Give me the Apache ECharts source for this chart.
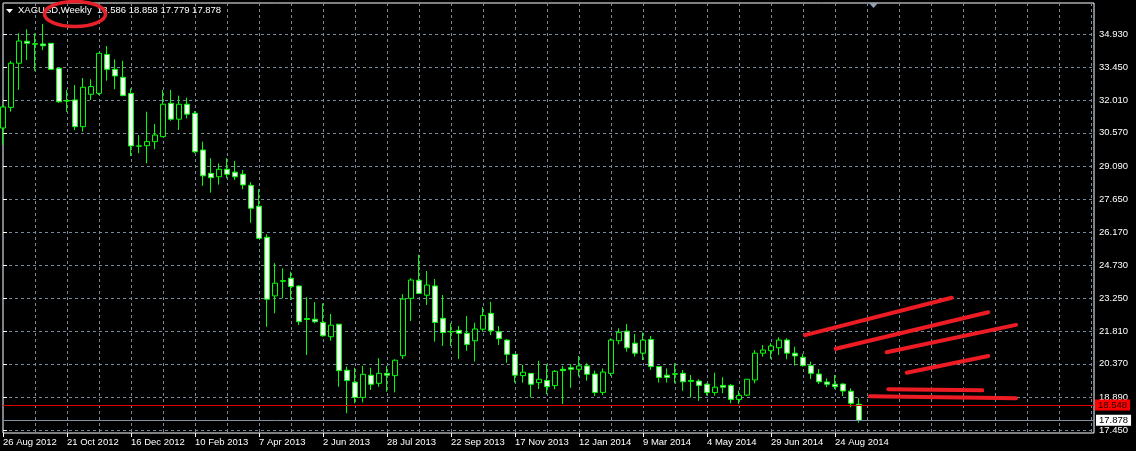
<!DOCTYPE html>
<html>
<head>
<meta charset="utf-8">
<script src="https://cdn.jsdelivr.net/npm/echarts@6/dist/echarts.min.js"></script>
<style>
html,body{margin:0;padding:0;background:#000;}
#c{width:1136px;height:451px;}
</style>
</head>
<body>
<div id="c"></div>
<script>
// Weekly XAGUSD candles, index 0 = week of 26 Aug 2012
const open = [30.78,31.69,33.64,34.61,34.50,34.49,34.52,33.42,31.99,32.02,30.84,32.27,32.31,34.03,33.37,33.02,32.31,29.99,30.00,30.18,30.40,31.87,31.17,31.83,31.43,29.81,28.78,28.63,28.96,28.83,28.74,28.25,27.33,25.96,23.37,24.04,24.15,23.81,22.37,22.34,22.20,21.57,22.12,20.09,19.56,18.89,19.87,19.51,19.95,19.85,20.73,23.26,24.06,23.40,23.81,22.38,21.80,21.85,21.72,21.39,21.90,22.60,21.79,21.42,20.79,19.85,19.95,19.54,19.64,19.41,20.13,20.20,20.13,20.28,19.92,19.11,19.95,21.39,21.81,21.28,20.84,21.45,20.25,19.87,19.93,19.95,19.64,19.61,19.47,19.10,19.42,19.42,18.80,18.99,19.66,20.84,20.95,21.08,21.42,20.84,20.66,20.29,19.92,19.57,19.47,19.48,19.16,18.586];
const close = [31.71,33.64,34.62,34.52,34.48,34.41,33.37,31.94,31.97,30.84,32.58,32.61,34.08,33.37,33.08,32.21,29.99,29.98,30.18,30.47,31.83,31.17,31.83,31.39,29.73,28.67,28.59,28.96,28.74,28.63,28.27,27.24,25.91,23.22,23.93,24.02,23.78,22.23,22.33,22.23,21.61,22.08,20.07,19.63,18.89,19.91,19.47,19.95,19.87,20.53,23.23,24.07,23.48,23.85,22.20,21.75,21.78,21.72,21.23,21.91,22.51,21.83,21.48,20.79,19.87,20.00,19.47,19.69,19.36,20.04,20.07,20.13,20.28,19.91,19.11,20.01,21.42,21.76,21.08,20.84,21.42,20.25,19.77,19.77,19.91,19.58,19.60,19.42,19.11,19.34,19.34,18.80,18.98,19.69,20.84,20.98,21.16,21.42,20.84,20.72,20.29,19.95,19.58,19.47,19.36,19.17,18.63,17.878];
const low = [30.03,31.50,32.46,33.78,33.31,34.22,33.34,31.89,31.50,30.69,30.62,32.02,32.24,32.87,32.49,32.19,29.55,29.67,29.22,29.84,30.38,31.10,30.69,31.21,29.67,28.23,27.93,28.28,28.56,28.49,28.08,26.60,25.90,22.01,22.60,23.26,23.19,22.08,20.76,22.16,21.57,21.39,19.36,18.19,18.63,18.67,19.22,19.36,19.14,19.11,20.59,22.26,23.46,22.97,21.35,21.16,21.16,20.59,20.95,20.47,21.79,21.64,21.20,20.42,19.54,19.54,18.89,19.26,19.03,19.25,18.60,19.32,19.81,19.63,18.95,18.99,19.84,21.23,20.91,20.69,20.54,20.10,19.54,19.54,19.51,19.18,18.88,18.74,18.97,18.97,19.07,18.63,18.60,18.95,19.51,20.69,20.59,20.76,20.57,20.29,20.25,19.70,19.48,19.34,19.25,18.95,18.45,17.779];
const high = [31.80,33.74,34.96,35.14,34.96,35.37,34.53,33.43,32.46,32.68,32.99,32.93,34.10,34.40,33.81,33.75,32.53,30.47,31.50,30.96,32.46,32.46,32.21,32.12,31.53,30.18,29.45,29.22,29.45,29.32,28.93,28.39,28.08,26.09,24.81,24.59,24.44,23.85,23.31,23.09,23.04,22.57,22.12,20.25,20.20,20.28,20.20,20.62,20.28,20.57,23.45,24.15,25.19,24.47,24.12,23.41,22.16,22.04,22.48,22.19,22.87,23.11,22.04,21.46,20.79,20.32,19.95,20.50,20.35,20.10,20.28,20.36,20.72,20.40,20.07,20.17,21.50,21.94,22.13,21.69,21.76,21.60,20.28,20.17,20.40,20.10,19.88,19.69,19.51,19.98,19.78,19.48,19.19,19.69,20.98,21.20,21.28,21.54,21.50,21.13,20.81,20.47,20.14,19.73,19.88,19.51,19.29,18.858];

const dateLabels = ['26 Aug 2012','21 Oct 2012','16 Dec 2012','10 Feb 2013','7 Apr 2013','2 Jun 2013','28 Jul 2013','22 Sep 2013','17 Nov 2013','12 Jan 2014','9 Mar 2014','4 May 2014','29 Jun 2014','24 Aug 2014'];
const dateLabelIdx = [0,8,16,24,32,40,48,56,64,72,80,88,96,104];
const priceTicks = [34.93,33.45,32.01,30.57,29.09,27.65,26.17,24.73,23.25,21.81,20.37,18.89,17.45];
const alertPrice = 18.548;
const bidPrice = 17.878;
const headerText = 'XAGUSD,Weekly  18.586 18.858 17.779 17.878';
// hand-drawn annotation lines: [[weekIdx, price],[weekIdx, price]]
const trendLines = [
  [[100.25,21.64],[118.59,23.29]],
  [[104.09,21.04],[123.16,22.65]],
  [[110.46,20.88],[126.63,22.09]],
  [[112.96,19.98],[123.16,20.72]],
  [[110.66,19.25],[122.41,19.20]],
  [[108.38,18.94],[126.63,18.85]]
];

const candleData = open.map((o,i)=>[i,o,close[i],low[i],high[i]]);
const gridColor = '#778899';
const font = 'Liberation Sans, Arial, sans-serif';

const chart = echarts.init(document.getElementById('c'), null, {renderer:'canvas'});
const markData = [
  {yAxis: alertPrice, lineStyle:{color:'#e00000',width:1,type:'solid'},
   label:{show:true,position:'end',distance:1,formatter:alertPrice.toFixed(3),backgroundColor:'#ff0000',color:'#200000',padding:[1,3,0,3],fontSize:9.5,fontFamily:font}},
  {yAxis: bidPrice, lineStyle:{color:'#8090a0',width:1,type:'solid'},
   label:{show:true,position:'end',distance:2,formatter:bidPrice.toFixed(3),backgroundColor:'#ffffff',color:'#000',padding:[1,3,0,3],fontSize:9.5,fontFamily:font}}
];
trendLines.forEach(l=>{
  markData.push([
    {coord:l[0], lineStyle:{color:'#ed1c24',width:4,type:'solid',cap:'round'}, label:{show:false}},
    {coord:l[1]}
  ]);
});

chart.setOption({
  animation:false,
  backgroundColor:'#000',
  grid:{left:3,right:42,top:3,bottom:18,show:true,borderColor:'#ffffff',borderWidth:1,backgroundColor:'#000'},
  xAxis:[
    {type:'value',min:0,max:136.375,interval:4,position:'bottom',
     axisLine:{show:false},axisTick:{show:false},axisLabel:{show:false},
     splitLine:{show:true,lineStyle:{color:gridColor,type:[3,3],width:1}}},
    {type:'value',min:0,max:136.375,position:'bottom',
     axisLine:{show:false},
     axisTick:{show:true,length:4,lineStyle:{color:'#fff'},customValues:dateLabelIdx},
     axisLabel:{show:true,customValues:dateLabelIdx,align:'left',margin:4,color:'#fff',fontSize:9.5,fontFamily:font,
       formatter:v=>dateLabels[dateLabelIdx.indexOf(Math.round(v))]||''},
     splitLine:{show:false}}
  ],
  yAxis:{type:'value',position:'right',min:17.318,max:36.299,
    axisLine:{show:false},
    axisTick:{show:true,length:4,lineStyle:{color:'#fff'},customValues:priceTicks},
    axisLabel:{show:true,customValues:priceTicks,margin:5,color:'#fff',fontSize:9.5,fontFamily:font,formatter:v=>v.toFixed(3)},
    splitLine:{show:true,lineStyle:{color:gridColor,type:[3,3],width:1}}},
  series:[{
    type:'candlestick',
    xAxisIndex:0,
    data:candleData,
    encode:{x:0,y:[1,2,3,4]},
    barWidth:5,
    itemStyle:{color:'#000',color0:'#fff',borderColor:'#00ff00',borderColor0:'#00ff00',borderColorDoji:'#00ff00',borderWidth:1},
    markLine:{silent:true,symbol:['none','none'],animation:false,data:markData}
  }],
  graphic:[
    {type:'polygon',shape:{points:[[6,9],[13,9],[9.5,13]]},style:{fill:'#fff'},z:10},
    {type:'text',left:18,top:5,style:{text:headerText,fill:'#ffffff',font:'9.5px '+font},z:10},
    {type:'ellipse',shape:{cx:75,cy:14,rx:30.5,ry:12.5},style:{fill:'none',stroke:'#e8202a',lineWidth:3.5},z:20},
    {type:'polygon',shape:{points:[[869,3],[878,3],[873.5,8]]},style:{fill:'#8fa0b5'},z:10}
  ]
});
</script>
</body>
</html>
